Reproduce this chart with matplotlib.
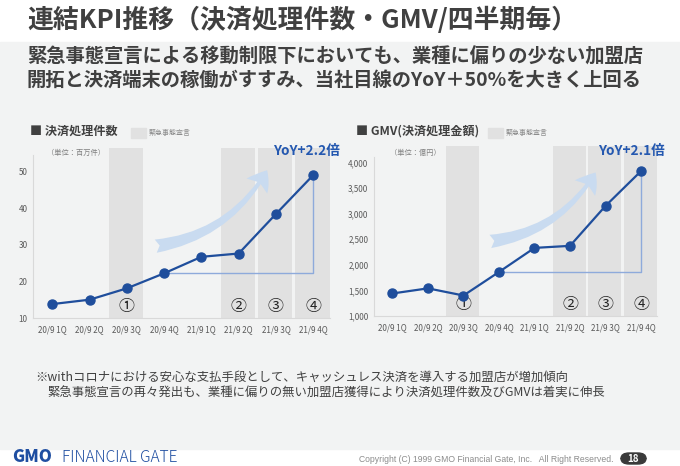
import numpy as np
import matplotlib.pyplot as plt
from matplotlib.patches import Rectangle, FancyArrowPatch, FancyBboxPatch
from matplotlib.transforms import blended_transform_factory

plt.rcParams['font.family'] = ['Noto Sans CJK JP', 'DejaVu Sans']

# data
quarters = ['20/9 1Q', '20/9 2Q', '20/9 3Q', '20/9 4Q',
            '21/9 1Q', '21/9 2Q', '21/9 3Q', '21/9 4Q']
txn_count = [13.8, 15.0, 18.1, 22.2, 26.7, 27.6, 38.4, 49.0]   # 百万件
gmv = [1440, 1540, 1400, 1860, 2330, 2370, 3150, 3830]         # 億円
emergency_idx = [2, 5, 6, 7]
emergency_marks = ['①', '②', '③', '④']

W, H = 680, 466
BLUE = '#1f4e9c'
TXT = '#404040'
GREY_TXT = '#595959'

fig = plt.figure(figsize=(W / 100, H / 100), dpi=100)
fig.patch.set_facecolor('white')


def fx(x):
    return x / W


def fy(y):
    return 1 - y / H


# gray body band of the slide
fig.patches.append(Rectangle((0, fy(449)), 1, fy(42) - fy(449),
                             transform=fig.transFigure, color='#f2f3f3', zorder=-10))

fig.text(fx(27), fy(20), '連結KPI推移（決済処理件数・GMV/四半期毎）',
         fontsize=18.6, fontweight='bold', color=TXT, va='center')
fig.text(fx(27), fy(57), '緊急事態宣言による移動制限下においても、業種に偏りの少ない加盟店',
         fontsize=13.9, fontweight='bold', color=TXT, va='center')
fig.text(fx(27), fy(80), '開拓と決済端末の稼働がすすみ、当社目線のYoY＋50%を大きく上回る',
         fontsize=13.9, fontweight='bold', color=TXT, va='center')


def panel(box, values, ylim, yticks, fmt, arrow_pts, spine_top):
    ax = fig.add_axes(box)
    ax.set_facecolor('none')
    x = np.arange(len(values))
    for i in emergency_idx:
        ax.axvspan(i - 0.48, i + 0.44, color='#e1e1e1', lw=0, zorder=0)
    trans = blended_transform_factory(ax.transData, ax.transAxes)
    for i, m in zip(emergency_idx, emergency_marks):
        ax.text(i, 0.065, m, transform=trans, ha='center', va='center',
                fontsize=11.5, color='#262626')
    # YoY bracket
    ax.plot([3, 7, 7], [values[3], values[3], values[7]],
            color='#8eaadb', lw=1.0, zorder=2)
    arr = FancyArrowPatch(arrow_pts[0], arrow_pts[1],
                          arrowstyle='fancy,head_length=0.85,head_width=1.15,tail_width=0.6',
                          connectionstyle='arc3,rad=0.25', mutation_scale=16,
                          color='#c9dbf0', lw=0, zorder=1)
    ax.add_patch(arr)
    ax.plot(x, values, color=BLUE, lw=1.6, marker='o', markersize=6.5, zorder=3)
    ax.set_xlim(-0.52, 7.45)
    ax.set_ylim(*ylim)
    ax.set_yticks(yticks)
    ax.set_yticklabels([fmt.format(v) for v in yticks])
    ax.set_xticks(x)
    ax.set_xticklabels(quarters)
    ax.tick_params(length=0, labelsize=5.8, colors=GREY_TXT)
    ax.tick_params(axis='x', pad=5)
    ax.tick_params(axis='y', pad=4)
    for s in ['top', 'right']:
        ax.spines[s].set_visible(False)
    for s in ['left', 'bottom']:
        ax.spines[s].set_color('#d9d9d9')
        ax.spines[s].set_linewidth(0.8)
    ax.spines['left'].set_bounds(ylim[0], spine_top)
    return ax


panel([fx(33), fy(318), fx(330) - fx(33), fy(148) - fy(318)],
      txn_count, (10, 56.4), [10, 20, 30, 40, 50], '{:d}',
      [(2.7, 29.5), (5.8, 51.0)], 54.6)
panel([fx(374), fy(316), fx(657) - fx(374), fy(146) - fy(316)],
      gmv, (1000, 4320), [1000, 1500, 2000, 2500, 3000, 3500, 4000], '{:,}',
      [(2.68, 2450), (5.76, 3850)], 4100)

# panel headers
for x0, title, px, ux, unit, yx, yoy in [
        (30, '■ 決済処理件数', 131, 76, '（単位：百万件）', 306, 'YoY+2.2倍'),
        (356, '■ GMV(決済処理金額)', 488, 415, '（単位：億円）', 631, 'YoY+2.1倍')]:
    fig.text(fx(x0), fy(131), title, fontsize=8.7, fontweight='bold', color=TXT, va='center')
    fig.patches.append(Rectangle((fx(px), fy(138)), fx(15), fy(128) - fy(138),
                                 transform=fig.transFigure, color='#e1e1e1', zorder=1))
    fig.text(fx(px + 18), fy(133), '緊急事態宣言', fontsize=5, color='#8c8c8c', va='center')
    fig.text(fx(ux), fy(153), unit, fontsize=5.2, color='#7f7f7f', va='center', ha='center')
    fig.text(fx(yx), fy(151), yoy, fontsize=9.8, fontweight='bold', color='#2458b0',
             va='center', ha='center')

fig.text(fx(35), fy(377), '※withコロナにおける安心な支払手段として、キャッシュレス決済を導入する加盟店が増加傾向',
         fontsize=8.9, color=TXT, va='center')
fig.text(fx(47), fy(393), '緊急事態宣言の再々発出も、業種に偏りの無い加盟店獲得により決済処理件数及びGMVは着実に伸長',
         fontsize=8.9, color=TXT, va='center')

# footer
fig.text(fx(12), fy(457), 'GMO', fontsize=12, fontweight='black', color='#1f4ea1', va='center',
         family='Noto Sans CJK JP')
fig.text(fx(62), fy(457), 'FINANCIAL GATE', fontsize=11.2, fontweight='light', color='#1f4ea1',
         va='center', family='Noto Sans CJK JP')
fig.text(fx(359), fy(459), 'Copyright (C) 1999 GMO Financial Gate, Inc.   All Right Reserved.',
         fontsize=6.2, color='#8c8c8c', va='center', family='Liberation Sans')
fig.patches.append(FancyBboxPatch((fx(621), fy(464)), fx(25), fy(453) - fy(464),
                                  boxstyle='round,pad=0,rounding_size=0.012',
                                  transform=fig.transFigure, color='#3a3a3a', zorder=1))
fig.text(fx(633.5), fy(458.5), '18', fontsize=7, fontweight='bold', color='white',
         va='center', ha='center')

fig.savefig('out.png', dpi=100)
